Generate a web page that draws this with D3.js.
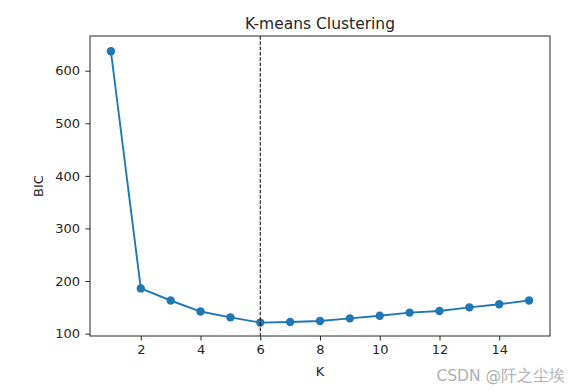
<!DOCTYPE html>
<html><head><meta charset="utf-8">
<script src="https://cdn.jsdelivr.net/npm/d3@7/dist/d3.min.js"></script>
<style>body{margin:0;background:#fff}svg{display:block}text{font-family:"DejaVu Sans",sans-serif}</style>
</head><body>
<script>
const ks = [1,2,3,4,5,6,7,8,9,10,11,12,13,14,15];
const bic = [637,186,163,142,131,121,122,124,129,134,140,143,150,156,163];
const xTicks = [2,4,6,8,10,12,14];
const yTicks = [100,200,300,400,500,600];
const bestK = 6;
const title = "K-means Clustering";
const xLabel = "K", yLabel = "BIC";
const watermark = "CSDN @阡之尘埃";

const W = 580, H = 391;
const m = {l:90, r:30, t:36, b:55};
const svg = d3.select("body").append("svg").attr("width",W).attr("height",H);
const x = d3.scaleLinear().domain([0.3,15.7]).range([m.l, W-m.r]);
const y = d3.scaleLinear().domain([95.5,666]).range([H-m.b, m.t]);

const color = "#1f77b4";
const g = svg.append("g");
g.append("path").datum(ks.map((k,i)=>[k,bic[i]]))
 .attr("fill","none").attr("stroke",color).attr("stroke-width",1.9)
 .attr("d", d3.line().x(d=>x(d[0])).y(d=>y(d[1])));
g.selectAll("circle").data(ks.map((k,i)=>[k,bic[i]])).join("circle")
 .attr("cx",d=>x(d[0])).attr("cy",d=>y(d[1])).attr("r",4.2).attr("fill",color);
g.append("line").attr("x1",x(bestK)).attr("x2",x(bestK)).attr("y1",m.t).attr("y2",H-m.b)
 .attr("stroke","#000").attr("stroke-width",1).attr("stroke-dasharray","3.7,1.6");

const xa = svg.append("g").attr("transform",`translate(0,${H-m.b})`)
 .call(d3.axisBottom(x).tickValues(xTicks).tickSize(4.5).tickPadding(4.5).tickFormat(d3.format("d")));
const ya = svg.append("g").attr("transform",`translate(${m.l},0)`)
 .call(d3.axisLeft(y).tickValues(yTicks).tickSize(4.5).tickPadding(5.5).tickFormat(d3.format("d")));
[xa,ya].forEach(a=>{a.select(".domain").remove();a.selectAll("text").attr("font-size",13).attr("fill","#262626").attr("font-family","DejaVu Sans");a.selectAll("line").attr("stroke","#262626");});
svg.append("rect").attr("x",m.l).attr("y",m.t).attr("width",W-m.r-m.l).attr("height",H-m.b-m.t)
 .attr("fill","none").attr("stroke","#262626").attr("stroke-width",1);

svg.append("text").attr("x",(m.l+W-m.r)/2).attr("y",29).attr("text-anchor","middle").attr("font-size",15.5).attr("fill","#262626").text(title);
svg.append("text").attr("x",(m.l+W-m.r)/2).attr("y",376).attr("text-anchor","middle").attr("font-size",13).attr("fill","#262626").text(xLabel);
svg.append("text").attr("transform",`translate(43,${(m.t+H-m.b)/2}) rotate(-90)`).attr("text-anchor","middle").attr("font-size",13).attr("fill","#262626").text(yLabel);
svg.append("text").attr("x",565).attr("y",381).attr("text-anchor","end").attr("font-size",15.5).attr("fill","#b0b0b0")
 .attr("font-family","'Noto Sans CJK SC','Noto Sans',sans-serif").text(watermark);
</script>
</body></html>
